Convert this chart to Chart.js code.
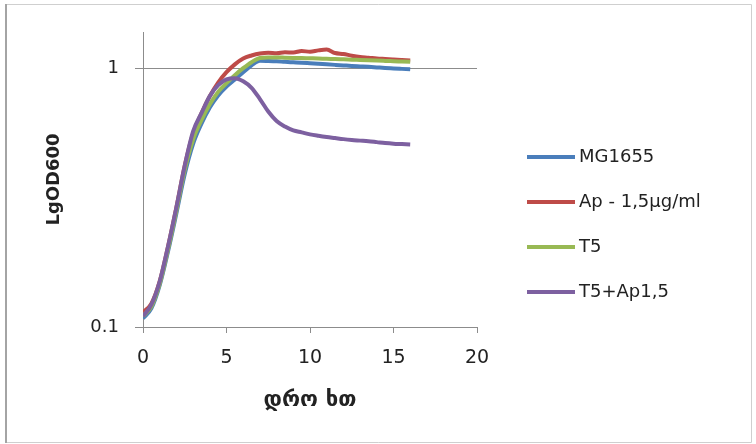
<!DOCTYPE html>
<html lang="ka">
<head>
  <meta charset="utf-8"/>
  <title>LgOD600</title>
  <script src="https://cdn.jsdelivr.net/npm/chart.js"></script>
  <style>
    body { margin: 0; background: #fff; }
    #my_chart { display: block; }
  </style>
</head>
<body>
<canvas id="my_chart" width="756" height="444"></canvas>
<script>
// time, hours
var hours = [0, 0.5, 1, 1.5, 2, 2.5, 3, 3.5, 4, 4.5, 5, 5.5, 6, 6.5, 7, 7.5, 8,
  8.5, 9, 9.5, 10, 10.5, 11, 11.5, 12, 12.5, 13, 13.5, 14, 14.5, 15, 15.5, 16];

var seriesLabels = ['MG1655', 'Ap - 1,5\u00b5g/ml', 'T5', 'T5+Ap1,5'];

var mg1655 = [0.108, 0.118, 0.145, 0.196, 0.275, 0.39, 0.51, 0.61, 0.705, 0.785, 0.85,
  0.905, 0.965, 1.025, 1.068, 1.066, 1.063, 1.058, 1.054, 1.05, 1.045, 1.04, 1.035,
  1.03, 1.025, 1.02, 1.016, 1.012, 1.007, 1.002, 0.998, 0.994, 0.99];

var ap15 = [0.114, 0.123, 0.15, 0.205, 0.29, 0.42, 0.56, 0.67, 0.78, 0.88, 0.965,
  1.035, 1.09, 1.12, 1.14, 1.148, 1.142, 1.152, 1.15, 1.165, 1.158, 1.172, 1.18,
  1.145, 1.135, 1.118, 1.105, 1.098, 1.09, 1.085, 1.08, 1.075, 1.07];

var t5 = [0.11, 0.12, 0.147, 0.2, 0.282, 0.405, 0.53, 0.63, 0.725, 0.81, 0.875,
  0.94, 1.0, 1.055, 1.095, 1.1, 1.1, 1.098, 1.096, 1.094, 1.092, 1.09, 1.087,
  1.085, 1.082, 1.079, 1.076, 1.073, 1.07, 1.067, 1.064, 1.061, 1.058];

var t5ap = [0.11, 0.122, 0.15, 0.205, 0.29, 0.42, 0.57, 0.67, 0.78, 0.86, 0.905,
  0.915, 0.89, 0.84, 0.76, 0.68, 0.625, 0.595, 0.575, 0.565, 0.555, 0.548, 0.542,
  0.537, 0.532, 0.528, 0.525, 0.522, 0.518, 0.514, 0.511, 0.509, 0.507];

var yTicks = [0.1, 1];
var xTicks = [0, 5, 10, 15, 20];

const COLORS = ['#4a7ebb', '#be4b48', '#98b954', '#7d60a0'];
const FONT = "'DejaVu Sans', sans-serif";

function makeSet(i, values, order) {
  return {
    label: seriesLabels[i],
    data: hours.map((h, k) => ({x: h, y: values[k]})),
    borderColor: COLORS[i],
    backgroundColor: COLORS[i],
    borderWidth: 4,
    pointRadius: 0,
    cubicInterpolationMode: 'monotone',
    order: order
  };
}

// frame round the picture + legend on the right
const decor = {
  id: 'decor',
  beforeDraw(chart) {
    const c = chart.ctx;
    c.save();
    c.fillStyle = '#fff';
    c.fillRect(0, 0, chart.width, chart.height);
    c.strokeStyle = '#cfcfcf';
    c.lineWidth = 1;
    c.beginPath();
    c.moveTo(5, 4.5); c.lineTo(751.5, 4.5); c.lineTo(751.5, 442.5); c.lineTo(5, 442.5);
    c.stroke();
    c.strokeStyle = '#a4a4a4';
    c.lineWidth = 2;
    c.beginPath();
    c.moveTo(6, 4); c.lineTo(6, 443);
    c.stroke();
    c.restore();
  },
  afterDraw(chart) {
    const c = chart.ctx;
    c.save();
    c.font = '18px ' + FONT;
    c.textBaseline = 'middle';
    c.fillStyle = '#222';
    chart.data.datasets.forEach((ds, i) => {
      const y = 157 + i * 45;
      c.strokeStyle = ds.borderColor;
      c.lineWidth = 4;
      c.beginPath();
      c.moveTo(527, y);
      c.lineTo(575, y);
      c.stroke();
      c.fillText(ds.label, 579, y);
    });
    c.restore();
  }
};

window.onload = function () {
  const config = {
    type: 'line',
    data: {
      datasets: [
        makeSet(0, mg1655, 4),
        makeSet(1, ap15, 3),
        makeSet(2, t5, 2),
        makeSet(3, t5ap, 1)
      ]
    },
    options: {
      responsive: false,
      animation: false,
      layout: { padding: { left: 0, top: 32, right: 279, bottom: 0 } },
      plugins: {
        legend: { display: false },
        tooltip: { enabled: false }
      },
      scales: {
        x: {
          type: 'linear',
          min: 0,
          max: 20,
          afterBuildTicks: (s) => { s.ticks = xTicks.map(v => ({value: v})); },
          afterFit: (s) => { s.height = 117; },
          grid: { drawOnChartArea: false, drawTicks: true, tickLength: 6, color: '#8c8c8c' },
          border: { color: '#8c8c8c', width: 1 },
          ticks: { color: '#222', font: { family: FONT, size: 19 }, padding: 14, maxRotation: 0 },
          title: {
            display: true,
            text: 'დრო ხთ',
            color: '#222',
            font: { family: FONT, size: 22, weight: 'bold' },
            padding: { top: 0, bottom: 31 }
          }
        },
        y: {
          type: 'logarithmic',
          min: 0.1,
          max: 1.38,
          afterBuildTicks: (s) => { s.ticks = yTicks.map(v => ({value: v})); },
          afterFit: (s) => { s.width = 143; },
          grid: { drawOnChartArea: true, drawTicks: true, tickLength: 8, color: '#8c8c8c' },
          border: { color: '#8c8c8c', width: 1 },
          ticks: {
            color: '#222',
            font: { family: FONT, size: 18 },
            padding: 16,
            callback: (v) => String(v)
          },
          title: {
            display: true,
            text: 'LgOD600',
            color: '#222',
            font: { family: FONT, size: 18, weight: 'bold' },
            padding: { top: 44, bottom: 0 }
          }
        }
      }
    },
    plugins: [decor]
  };

  const ctx = document.getElementById('my_chart').getContext('2d');
  new Chart(ctx, config);
};
</script>
</body>
</html>
